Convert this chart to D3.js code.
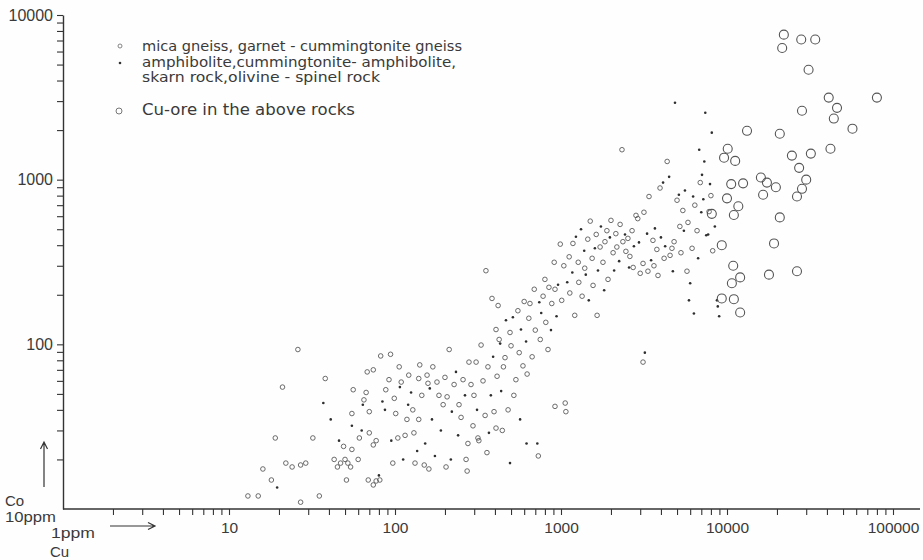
<!DOCTYPE html>
<html><head><meta charset="utf-8">
<script src="https://cdn.jsdelivr.net/npm/d3@7"></script>
<style>
body{margin:0;background:#fff}
svg text{font-family:"DejaVu Sans",sans-serif;fill:#3a3a3a}
svg .num{font-family:"Liberation Sans",Arial,sans-serif}
</style>
</head><body><svg id="c" width="923" height="560"></svg>
<script>
// [Cu ppm, Co ppm]
const micaGneiss = [
[13,12],[15,12],[16,17.5],[18,15],[19,27],[21,55],[26,93],[22,19],[24,18],[27,18.5],[29,19],[32,27],[27,11],[35,12],[38,62],
[43,20],[45,18],[47,19],[50,20],[52,19],[49,24],[55,23],[56,53],[55,38],[54,18],[51,15],[60,20],[61,27],[65,46],[67,51],
[70,39],[68,68],[70,29],[74,24.5],[77,26],[69,15],[74,14],[77,14.8],[74,70],[81,15],[82,85],[88,53],[92,61],[94,87],
[97,19],[99,47],[101,38],[104,27],[106,73],[109,59],[115,28],[118,35],[121,65],[128,40],[130,29],[132,19],[139,62],[139,35],
[141,75],[145,49],[150,18.5],[156,65],[158,58],[160,17.5],[169,73],[179,59],[184,49],[195,43],[200,63],[203,18],[206,48],
[212,93],[227,57],[243,43],[250,36],[257,61],[268,20],[272,17],[275,25],[279,78],[287,57],[295,32],[299,49],[308,78],
[320,26],[330,99],[339,60],[349,37],[353,280],[358,22],[363,73],[384,190],[395,39],[406,123],[412,64],[418,172],[424,107],
[443,30],[450,73],[460,83],[480,40],[493,118],[500,98],[520,49],[535,61],[550,160],[560,89],[590,74],[600,182],[625,66],
[640,144],[650,177],[670,84],[690,216],[700,122],[730,21],[750,107],[780,196],[800,248],[810,136],[835,93],[846,222],
[880,177],[910,315],[920,216],[990,406],[1010,185],[1040,300],[1060,44],[1070,39],[1120,340],[1130,205],[1180,410],
[1210,150],[1270,315],[1280,238],[1340,196],[1390,290],[1450,435],[1500,560],[1540,333],[1560,228],[1630,465],[1650,150],
[1720,390],[1790,315],[1840,420],[1890,490],[1920,248],[2000,566],[2060,360],[2140,470],[2170,390],[2270,535],[2330,1520],
[2360,420],[2460,367],[2530,440],[2600,342],[2680,490],[2720,293],[2830,607],[2900,580],[3000,270],[3120,78],[3120,310],
[3160,634],[3340,278],[3390,790],[3580,428],[3630,300],[3780,377],[3840,262],[3950,890],[4180,333],[4360,1290],[4540,347],
[4660,383],[4800,420],[5000,750],[5200,520],[5280,360],[5420,650],[5740,278],[5820,550],[6160,383],[6400,700],[6600,490],
[6900,960],[7800,640],[8000,800],[8200,370],[920,42],[406,31],[316,27]
];
const amphibolite = [
[19.5,13.5],[37,44],[41,35],[46,26],[55,32],[63,30],[64,43],[80,16],[84,45],[87,40],[95,26],[107,55],[112,20],[120,43],
[125,51],[136,22.5],[152,25],[162,54],[167,35],[174,21],[189,30],[217,20],[220,39],[233,68],[240,28],[264,49],[312,40],
[368,29],[378,49],[390,84],[430,101],[436,52],[466,140],[513,146],[574,123],[616,104],[720,25],[740,180],[760,155],
[870,122],[940,148],[960,230],[1090,238],[1170,273],[1230,450],[1320,500],[1380,370],[1410,265],[1470,185],[1600,383],
[1670,281],[1740,520],[1820,213],[1970,446],[2090,281],[2240,320],[2430,465],[2570,293],[2750,394],[2950,416],[3200,89],
[3300,470],[3490,324],[3680,506],[4000,446],[4120,960],[4240,394],[4480,1040],[4720,278],[4860,2930],[5130,810],[5500,490],
[5580,860],[5900,185],[6000,235],[6250,790],[6320,154],[6700,333],[6800,1520],[7000,634],[7070,1070],[7200,760],[7300,1290],
[7400,2550],[7500,460],[7700,465],[7900,940],[8100,1930],[8450,520],[8700,185],[8800,170],[8970,148],[567,35],[493,19],[620,25]
];
const cuOre = [
[22000,7600],[28000,7100],[34000,7100],[21500,6300],[31000,4650],[41000,3150],[80000,3150],[46000,2730],[28300,2620],
[44000,2350],[57000,2040],[13200,1980],[20800,1900],[10100,1540],[42000,1540],[32000,1440],[24600,1400],[9600,1360],
[11200,1300],[27200,1180],[30000,1000],[16000,1030],[17400,960],[19700,900],[10600,940],[12500,950],[28300,880],
[16500,810],[26400,790],[10000,770],[11700,690],[8100,620],[11000,610],[20800,590],[19200,410],[9300,400],[10900,300],
[12000,255],[10700,235],[17900,265],[9300,190],[11000,188],[12000,156],[26400,278]
];
const xTickLabels = ["10","100","1000","10000","100000"];
const yTickLabels = ["100","1000","10000"];
const legendLabels = [
  "mica gneiss, garnet - cummingtonite gneiss",
  "amphibolite,cummingtonite- amphibolite,",
  "skarn rock,olivine - spinel rock",
  "Cu-ore in the above rocks"
];
const axisTexts = {co:"Co", co10:"10ppm", cu1:"1ppm", cu:"Cu"};

const svg = d3.select("#c");
svg.append("rect").attr("width",923).attr("height",560).attr("fill","#fefefe");
const x = d3.scaleLog().domain([1,100000]).range([63,893]);
const y = d3.scaleLog().domain([10,10000]).range([509,15]);
function minorTicks(lo, hi){ const v=[]; for(let d=lo; d<hi; d*=10) for(let k=1;k<10;k++) v.push(d*k); v.push(hi); return v.slice(1); }

const ink = "#333";
const gx = svg.append("g").attr("transform","translate(0,509)")
  .call(d3.axisBottom(x).tickValues(minorTicks(1,100000)).tickSize(6).tickSizeOuter(0).tickPadding(7)
    .tickFormat(d => xTickLabels.includes(String(d)) ? String(d) : ""));
gx.select(".domain").remove();
gx.append("line").attr("x1",x(1)).attr("x2",x(100000)+27).attr("stroke",ink).attr("stroke-width",1.4);
gx.selectAll(".tick line").attr("stroke",ink).attr("stroke-width",1.1);
gx.selectAll("text").attr("class","num").attr("font-size",15.5).attr("fill","#3a3a3a");

const gy = svg.append("g").attr("transform","translate(63,0)")
  .call(d3.axisLeft(y).tickValues(minorTicks(10,10000)).tickSize(6).tickSizeOuter(0).tickPadding(4)
    .tickFormat(d => yTickLabels.includes(String(d)) ? String(d) : ""));
gy.select(".domain").attr("stroke",ink).attr("stroke-width",1.4);
gy.selectAll(".tick line").attr("stroke",ink).attr("stroke-width",1.1);
gy.selectAll("text").attr("class","num").attr("font-size",16).attr("fill","#3a3a3a");

// points
svg.append("g").selectAll("circle").data(micaGneiss).join("circle")
  .attr("cx",d=>x(d[0])).attr("cy",d=>y(d[1])).attr("r",2.3)
  .attr("fill","none").attr("stroke","#5a5a5a").attr("stroke-width",0.9);
svg.append("g").selectAll("circle").data(amphibolite).join("circle")
  .attr("cx",d=>x(d[0])).attr("cy",d=>y(d[1])).attr("r",1.3).attr("fill","#2e2e2e");
svg.append("g").selectAll("circle").data(cuOre).join("circle")
  .attr("cx",d=>x(d[0])).attr("cy",d=>y(d[1])).attr("r",4.5)
  .attr("fill","none").attr("stroke","#555").attr("stroke-width",1.1);

// legend
const lg = svg.append("g");
lg.append("circle").attr("cx",120).attr("cy",46).attr("r",2).attr("fill","none").attr("stroke","#777").attr("stroke-width",0.9);
lg.append("circle").attr("cx",120).attr("cy",63).attr("r",1.3).attr("fill","#333");
lg.append("circle").attr("cx",119).attr("cy",111).attr("r",3).attr("fill","none").attr("stroke","#777").attr("stroke-width",1);
const legY = [51,67,82,115], legW = [320,314,238,213], legF = [14,14,14,15];
legendLabels.forEach((t,i)=>{
  lg.append("text").attr("x",142).attr("y",legY[i]).attr("font-size",legF[i])
    .attr("textLength",legW[i]).attr("lengthAdjust","spacingAndGlyphs").text(t);
});

// axis annotations
const ann = svg.append("g").attr("class","num");
ann.append("text").attr("class","num").attr("x",5).attr("y",506).attr("font-size",15).text(axisTexts.co);
ann.append("text").attr("class","num").attr("x",5).attr("y",522).attr("font-size",14.5).attr("textLength",51).attr("lengthAdjust","spacingAndGlyphs").text(axisTexts.co10);
ann.append("text").attr("class","num").attr("x",51).attr("y",538).attr("font-size",15).attr("textLength",44).attr("lengthAdjust","spacingAndGlyphs").text(axisTexts.cu1);
ann.append("text").attr("class","num").attr("x",50).attr("y",557).attr("font-size",15).text(axisTexts.cu);

const ar = svg.append("g").attr("stroke",ink).attr("stroke-width",1.2).attr("fill","none");
ar.append("path").attr("d","M44,487 L44,442 M40.5,449 L44,442 L47.5,449");
ar.append("path").attr("d","M110,526 L155,526 M148,522.5 L155,526 L148,529.5");
</script>
</body></html>
